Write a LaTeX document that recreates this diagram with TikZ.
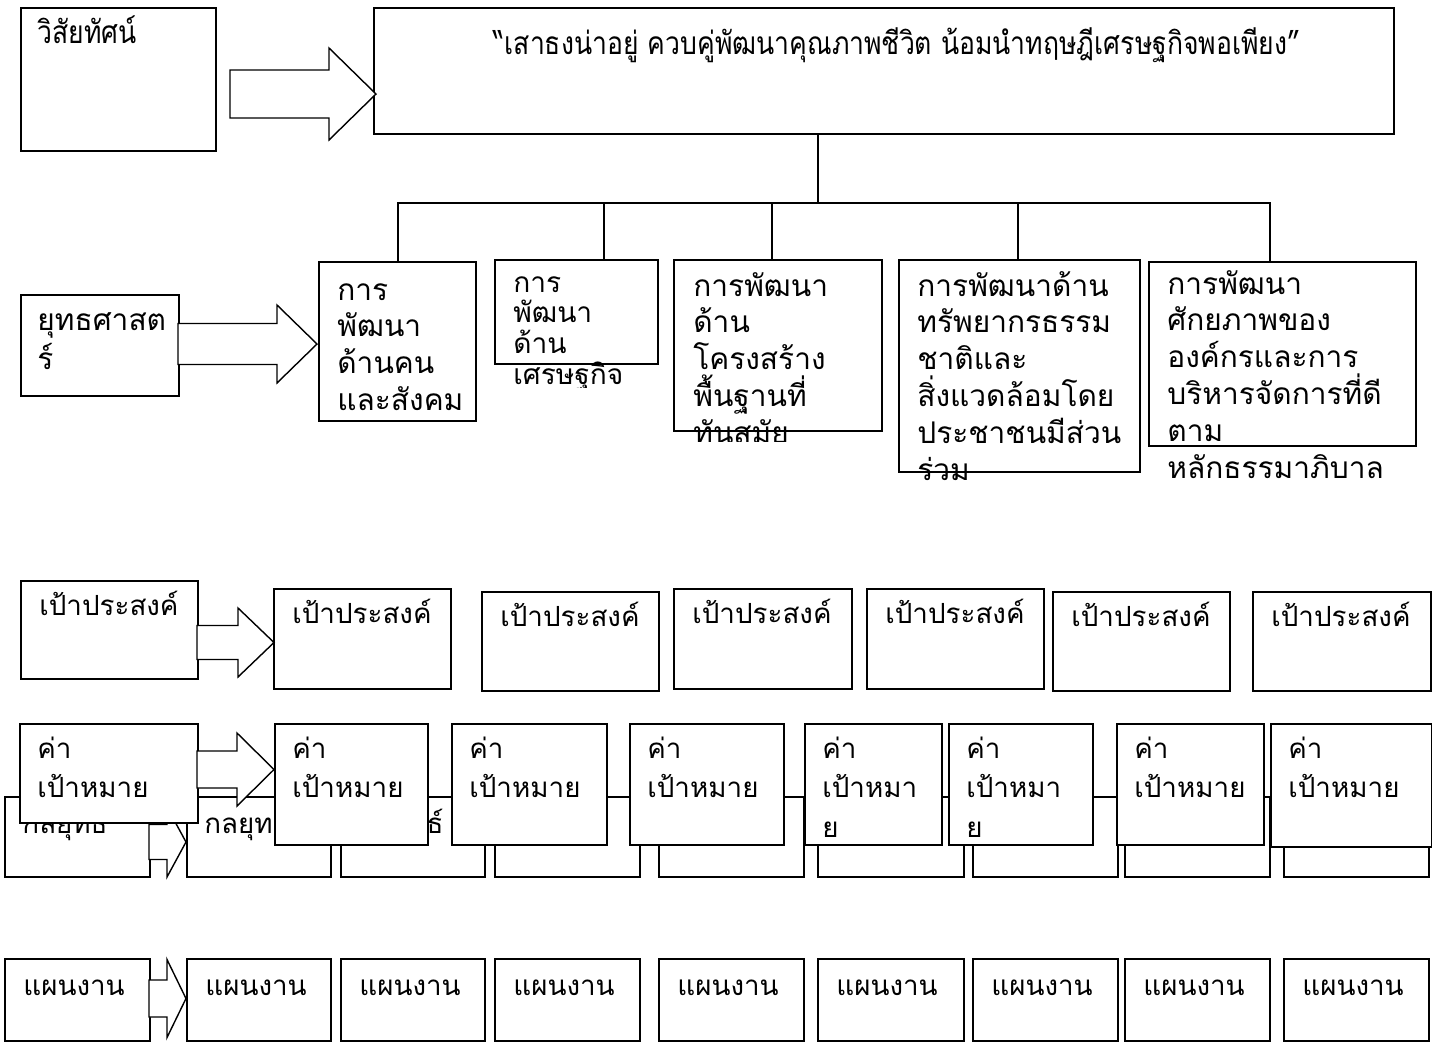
\documentclass[tikz,border=0pt]{standalone}
\usepackage{fontspec}
\newfontfamily\thai[Script=Thai]{Loma}
\newfontfamily\thaicn[Script=Thai,FakeStretch=0.84]{Loma}
% stacked lines, baseline on the first line
\newcommand{\stk}[1]{\vtop{\lineskiplimit=-\maxdimen\halign{##\hfil\cr#1\crcr}}}
% block arrow: x start, x head, x tip, y middle, body half, head half
\newcommand{\blkarrow}[6]{%
  \draw[arr] (#1,#4-#5) -- (#2,#4-#5) -- (#2,#4-#6) -- (#3,#4) -- (#2,#4+#6) -- (#2,#4+#5) -- (#1,#4+#5) -- cycle;}
\tikzset{
  bx/.style 2 args={draw, line width=1pt, fill=white, anchor=north west, inner sep=0pt,
    minimum width=#1*0.02cm, minimum height=#2*0.02cm},
  tx/.style={anchor=base west, inner sep=0pt, font=\thai\fontsize{17}{21}\selectfont},
  txs/.style={tx, font=\thai\fontsize{15.8}{22.7}\selectfont},
  arr/.style={line width=0.8pt, fill=white},
  tree/.style={line width=1.6pt, line cap=rect},
}
\begin{document}
\begin{tikzpicture}[x=0.02cm, y=-0.02cm]
\useasboundingbox (0,0) rectangle (1432,1046);

% vision
\node[bx={195}{143}] (vis) at (20,7) {};
\node[tx, font=\thaicn\fontsize{18}{21}\selectfont] (vist) at (37,43) {วิสัยทัศน์};
\node[bx={1020}{126}] (main) at (373,7) {};
\node[tx, anchor=base, font=\thaicn\fontsize{18}{21}\selectfont] (maint) at (897,54)
  {“เสาธงน่าอยู่ ควบคู่พัฒนาคุณภาพชีวิต น้อมนำทฤษฎีเศรษฐกิจพอเพียง”};
\blkarrow{230}{329}{376}{94}{24}{46}

% strategies
\node[bx={158}{101}] (str) at (20,294) {};
\node[tx, font=\thai\fontsize{17}{22.5}\selectfont] (strt) at (37,330) {\stk{ยุทธศาสต\cr ร์}};
\blkarrow{178}{277}{317}{344}{20.5}{39}
\node[bx={157}{159}] (d1) at (318,261) {};
\node[bx={163}{104}] (d2) at (494,259) {};
\node[bx={208}{171}] (d3) at (673,259) {};
\node[bx={241}{212}] (d4) at (898,259) {};
\node[bx={267}{184}] (d5) at (1148,261) {};
\node[tx] (d1t) at (337,300) {\stk{การ\cr พัฒนา\cr ด้านคน\cr และสังคม}};
\begin{scope}
  \clip (494,259) rectangle (700,387);
  \node[tx, font=\thai\fontsize{16}{17.5}\selectfont] (d2t) at (513,292)
    {\stk{การ\cr พัฒนา\cr ด้าน\cr เศรษฐกิจ}};
\end{scope}
\begin{scope}
  \clip (673,259) rectangle (900,441);
  \node[tx] (d3t) at (693,296) {\stk{การพัฒนา\cr ด้าน\cr โครงสร้าง\cr พื้นฐานที่\cr ทันสมัย}};
\end{scope}
\begin{scope}
  \clip (898,259) rectangle (1145,481);
  \node[tx] (d4t) at (917,296)
    {\stk{การพัฒนาด้าน\cr ทรัพยากรธรรม\cr ชาติและ\cr สิ่งแวดล้อมโดย\cr ประชาชนมีส่วน\cr ร่วม}};
\end{scope}
\begin{scope}
  \clip (1148,261) rectangle (1420,482);
  \node[tx] (d5t) at (1167,294)
    {\stk{การพัฒนา\cr ศักยภาพของ\cr องค์กรและการ\cr บริหารจัดการที่ดี\cr ตาม\cr หลักธรรมาภิบาล}};
\end{scope}

% tree
\coordinate (j) at (818,203);
\draw[tree] (main.south -| j) -- (j);
\draw[tree] (398,203) -- (1270,203);
\foreach \n/\x in {d1/398, d2/604, d3/772, d4/1018, d5/1270}
  \draw[tree] (\x,203) -- (\n.north -| \x,0);

% goals
\foreach \n/\x/\y/\w/\h in {g0/20/580/177/98, g1/273/588/177/100, g2/481/591/177/99,
    g3/673/588/178/100, g4/866/588/177/100, g5/1052/591/177/99, g6/1252/591/178/99} {
  \node[bx={\w}{\h}] (\n) at (\x,\y) {};
  \node[txs] (t\n) at ([shift={(19,35)}]\n.north west) {เป้าประสงค์};
}
\blkarrow{197}{238}{274}{642.5}{17}{34.5}

% tactics (behind, mostly covered)
\foreach \n/\x/\w in {k0/4/145, k1/186/144, k2/340/144, k3/494/145, k4/658/145,
    k5/817/146, k6/972/145, k7/1124/145, k8/1283/145}
  \node[bx={\w}{80}] (\n) at (\x,796) {};
\foreach \n in {k0, k1, k2}
  \node[txs] (t\n) at ([shift={(18,37)}]\n.north west) {กลยุทธ์};
\blkarrow{149}{167}{186}{842}{17.5}{35}

% targets
\foreach \n/\x/\w/\h in {c0/19/178/99, c1/274/153/121, c2/451/155/121, c3/629/154/121,
    c6/1116/147/121, c7/1270/161/123} {
  \node[bx={\w}{\h}] (\n) at (\x,723) {};
  \node[txs] (t\n) at ([shift={(18,35)}]\n.north west) {\stk{ค่า\cr เป้าหมาย}};
}
\foreach \n/\x/\w in {c4/804/137, c5/948/144} {
  \node[bx={\w}{121}] (\n) at (\x,723) {};
  \node[txs] (t\n) at ([shift={(18,35)}]\n.north west) {\stk{ค่า\cr เป้าหมา\cr ย}};
}
\blkarrow{197}{237}{274}{769.5}{18.5}{36.5}

% plans
\foreach \n/\x/\w in {p0/4/145, p1/186/144, p2/340/144, p3/494/145, p4/658/145,
    p5/817/146, p6/972/145, p7/1124/145, p8/1283/145} {
  \node[bx={\w}{82}] (\n) at (\x,958) {};
  \node[txs] (t\n) at ([shift={(19,37)}]\n.north west) {แผนงาน};
}
\blkarrow{149}{167}{186}{998.5}{18.5}{39}
\end{tikzpicture}
\end{document}
